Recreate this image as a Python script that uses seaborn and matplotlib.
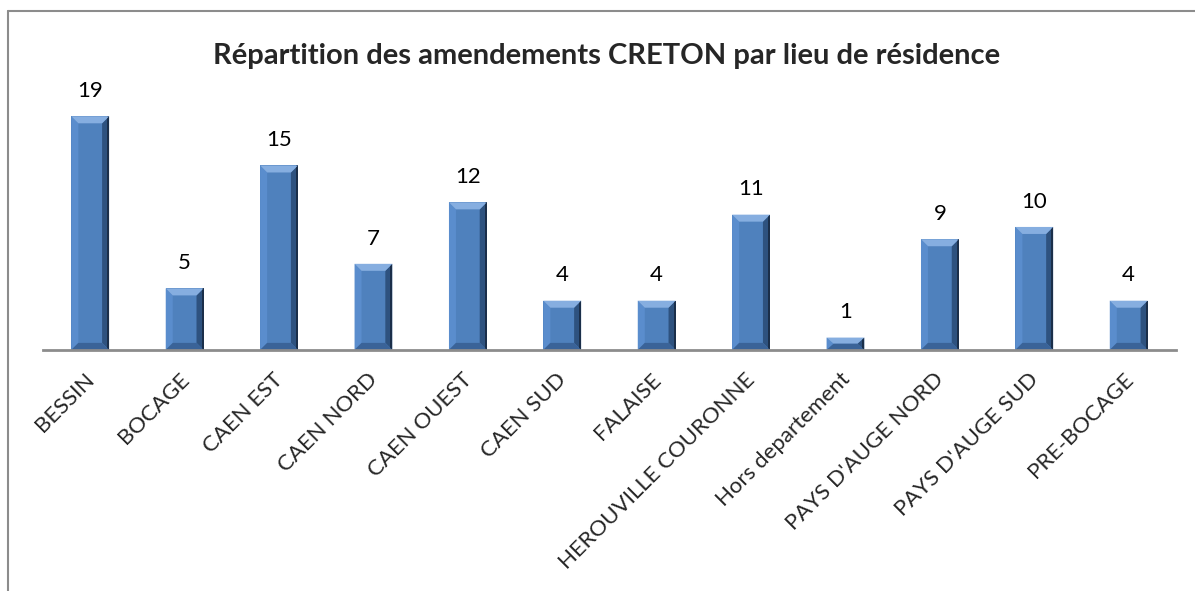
import matplotlib
matplotlib.use("Agg")
import matplotlib.pyplot as plt
import matplotlib.transforms as mtrans
import seaborn as sns
import pandas as pd
from matplotlib.patches import Polygon, Rectangle

# values
zones = ["BESSIN", "BOCAGE", "CAEN EST", "CAEN NORD", "CAEN OUEST", "CAEN SUD",
         "FALAISE", "HEROUVILLE COURONNE", "Hors departement",
         "PAYS D'AUGE NORD", "PAYS D'AUGE SUD", "PRE-BOCAGE"]
amendements = [19, 5, 15, 7, 12, 4, 4, 11, 1, 9, 10, 4]

df = pd.DataFrame({"zone": zones, "n": amendements})

sns.set_theme(style="white")
plt.rcParams["font.family"] = ["Lato", "DejaVu Sans"]

fig = plt.figure(figsize=(11.95, 5.91), dpi=100)
ax = fig.add_axes([0.036, 0.408, 0.948, 0.416])

sns.barplot(data=df, x="zone", y="n", color="#4F81BD", width=0.4,
            saturation=1, edgecolor="none", ax=ax)
ax.set_ylim(0, 20)
ax.set_xlim(-0.5, len(zones) - 0.5)

# bevel effect on each bar, sizes in pixels converted to data units
fig.canvas.draw()
p0 = ax.transData.transform((0, 0))
p1 = ax.transData.transform((1, 1))
px_x = 1.0 / (p1[0] - p0[0])
px_y = 1.0 / (p1[1] - p0[1])
bx, by = 7 * px_x, 7 * px_y
for bar in list(ax.patches):
    x0, w, h = bar.get_x(), bar.get_width(), bar.get_height()
    x1 = x0 + w
    b_y = min(by, h / 2)
    # left light strip
    ax.add_patch(Polygon([(x0, 0), (x0 + bx, b_y), (x0 + bx, h - b_y), (x0, h)],
                         closed=True, fc="#5A8DCD", ec="none", zorder=3))
    # right dark strip with two tones
    ax.add_patch(Polygon([(x1, 0), (x1 - bx, b_y), (x1 - bx, h - b_y), (x1, h)],
                         closed=True, fc="#2E527F", ec="none", zorder=3))
    ax.add_patch(Rectangle((x1 - 2 * px_x, 0), 2 * px_x, h,
                           fc="#1B2F4A", ec="none", zorder=3))
    # top light bevel
    ax.add_patch(Polygon([(x0, h), (x1, h), (x1 - bx, h - b_y), (x0 + bx, h - b_y)],
                         closed=True, fc="#86AEE0", ec="none", zorder=4))
    # bottom dark bevel
    ax.add_patch(Polygon([(x0, 0), (x1, 0), (x1 - bx, b_y), (x0 + bx, b_y)],
                         closed=True, fc="#3A6398", ec="none", zorder=4))

for i, v in enumerate(amendements):
    ax.annotate(str(v), (i, v), xytext=(0, 11), textcoords="offset points",
                ha="center", va="bottom", fontsize=16, color="#000000")

ax.set_xlabel("")
ax.set_ylabel("")
ax.set_yticks([])
ax.set_xticks(range(len(zones)))
ax.set_xticklabels(zones, rotation=45, ha="right", va="top",
                   rotation_mode="anchor", fontsize=16)
ax.tick_params(axis="x", length=0, pad=14)
shift = mtrans.ScaledTranslation(-6 / 100, 0, fig.dpi_scale_trans)
for lab in ax.get_xticklabels():
    lab.set_transform(lab.get_transform() + shift)
for s in ["top", "right", "left"]:
    ax.spines[s].set_visible(False)
ax.spines["bottom"].set_color("#8C8C8C")
ax.spines["bottom"].set_linewidth(2)
ax.spines["bottom"].set_zorder(5)

fig.text(0.508, 0.905, "Répartition des amendements CRETON par lieu de résidence",
         ha="center", va="center", fontsize=21, fontweight="bold")

# outer chart frame (left and top edges visible)
fig.add_artist(plt.Line2D([8 / 1195, 8 / 1195], [0, 1 - 11 / 591],
                          transform=fig.transFigure, color="#8C8C8C", lw=1.5))
fig.add_artist(plt.Line2D([8 / 1195, 1], [1 - 11 / 591, 1 - 11 / 591],
                          transform=fig.transFigure, color="#8C8C8C", lw=1.5))

fig.savefig("out.png", dpi=100)
